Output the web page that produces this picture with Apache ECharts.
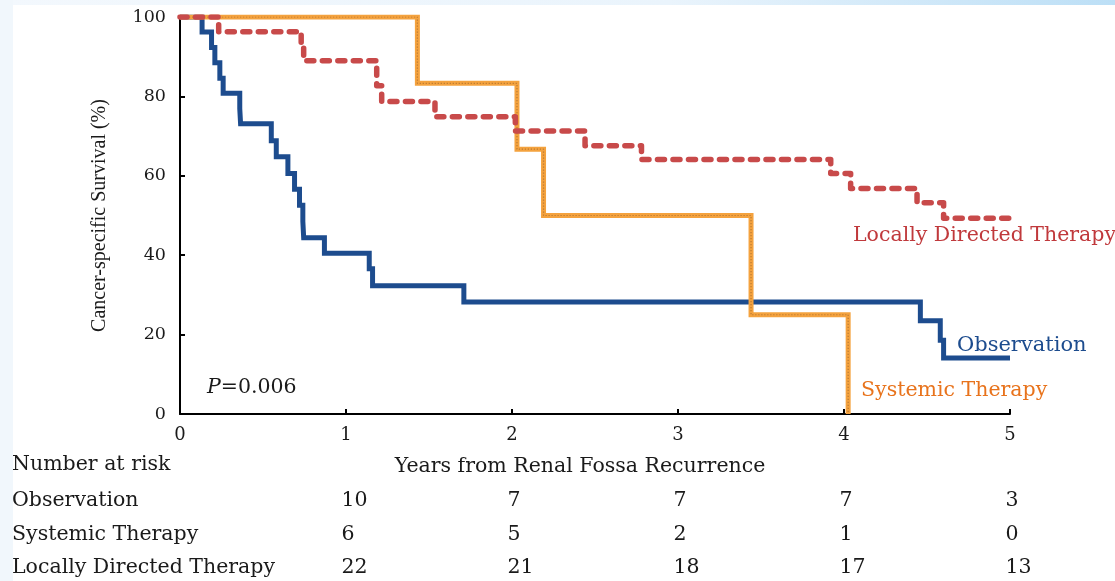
<!DOCTYPE html>
<html>
<head>
<meta charset="utf-8">
<script src="https://cdn.jsdelivr.net/npm/echarts@6/dist/echarts.min.js"></script>
<style>
html,body{margin:0;padding:0;background:#fff;}
#c{width:1115px;height:581px;}
</style>
</head>
<body>
<div id="c"></div>
<script>
// ---- Data ----
const xTicks = [0, 1, 2, 3, 4, 5];
const yTicks = [0, 20, 40, 60, 80, 100];

const obsTime = [0, 0.133, 0.19, 0.21, 0.24, 0.26, 0.36, 0.365, 0.55, 0.58, 0.65, 0.69, 0.72, 0.74, 0.745, 0.87, 1.14, 1.16, 1.71, 4.46, 4.58, 4.6, 5.0];
const obsSurv = [100, 96.2, 92.3, 88.5, 84.6, 80.8, 76.9, 73.1, 68.8, 64.8, 60.6, 56.6, 52.6, 48.5, 44.4, 40.5, 36.6, 32.3, 28.2, 23.5, 18.6, 14.1, 14.1];

const sysTime = [0, 1.43, 2.03, 2.19, 3.44, 4.025];
const sysSurv = [100, 83.3, 66.7, 50, 25, 0];

const locTime = [0, 0.233, 0.73, 0.745, 1.185, 1.215, 1.536, 2.02, 2.44, 2.78, 3.92, 4.04, 4.44, 4.6, 5.0];
const locSurv = [100, 96.3, 92.6, 89.0, 82.7, 78.7, 74.9, 71.3, 67.6, 64.1, 60.6, 56.8, 53.2, 49.3, 49.3];

const riskGroups = ['Observation', 'Systemic Therapy', 'Locally Directed Therapy'];
const riskYears = [1, 2, 3, 4, 5];
const riskObs = [10, 7, 7, 7, 3];
const riskSys = [6, 5, 2, 1, 0];
const riskLoc = [22, 21, 18, 17, 13];

// ---- Build ----
const zip = (t, s) => t.map((v, i) => [v, s[i]]);
const riskRows = [riskObs, riskSys, riskLoc];
const riskData = [];
riskRows.forEach((row, r) => row.forEach((v, i) => riskData.push([riskYears[i], riskGroups[r], v])));

const SERIF = '"DejaVu Serif", serif';
const TXT = '#1a1a1a';
const BLUE = '#1d4c8e';
const RED = '#c84a4a';
const ORANGE = '#f4a23e';
const FS = 20.5;

const chart = echarts.init(document.getElementById('c'));
chart.setOption({
  animation: false,
  backgroundColor: '#fff',
  grid: [
    { left: 180, top: 17, right: 105, bottom: 167, outerBoundsMode: 'none' },
    { left: 180, top: 484, right: 105, height: 101, outerBoundsMode: 'none' }
  ],
  xAxis: [{
    gridIndex: 0, type: 'value', min: 0, max: 5, interval: 1,
    name: 'Years from Renal Fossa Recurrence', nameLocation: 'middle', nameGap: 42,
    nameTextStyle: { fontFamily: SERIF, fontSize: FS, color: TXT, padding: [0, 30, 0, 0] },
    axisLine: { lineStyle: { color: '#000', width: 2 } },
    axisTick: { inside: true, length: 5, lineStyle: { color: '#000', width: 2 } },
    axisLabel: { fontFamily: SERIF, fontSize: 18, color: TXT, margin: 12, formatter: v => xTicks.includes(v) ? String(v) : '' },
    splitLine: { show: false }
  }, {
    gridIndex: 1, type: 'value', min: 0, max: 5, show: false
  }],
  yAxis: [{
    gridIndex: 0, type: 'value', min: 0, max: 100, interval: 20,
    name: 'Cancer-specific Survival (%)', nameLocation: 'middle', nameGap: 70, nameRotate: 90,
    nameTextStyle: { fontFamily: '"Liberation Serif", serif', fontSize: 20, color: TXT },
    axisLine: { show: true, lineStyle: { color: '#000', width: 2 } },
    axisTick: { show: true, inside: true, length: 5, lineStyle: { color: '#000', width: 2 } },
    axisLabel: { fontFamily: SERIF, fontSize: 17.5, color: TXT, margin: 14, formatter: v => yTicks.includes(v) ? String(v) : '' },
    splitLine: { show: false }
  }, {
    gridIndex: 1, type: 'category', data: riskGroups, inverse: true,
    axisLine: { show: false }, axisTick: { show: false }, splitLine: { show: false },
    axisLabel: { align: 'left', margin: 168, fontFamily: SERIF, fontSize: FS, color: TXT }
  }],
  series: [
    {
      name: 'Observation', type: 'line', xAxisIndex: 0, yAxisIndex: 0, step: 'end',
      data: zip(obsTime, obsSurv), showSymbol: false, z: 2,
      lineStyle: { color: BLUE, width: 5, join: 'miter' }
    },
    {
      name: 'Systemic Therapy', type: 'line', xAxisIndex: 0, yAxisIndex: 0, step: 'end',
      data: zip(sysTime, sysSurv), showSymbol: false, z: 3,
      lineStyle: { color: ORANGE, width: 5, join: 'miter' }
    },
    {
      name: 'Systemic Therapy dots', type: 'line', xAxisIndex: 0, yAxisIndex: 0, step: 'end',
      data: zip(sysTime, sysSurv), showSymbol: false, z: 3, silent: true,
      lineStyle: { color: '#8a5a2a', width: 1.2, type: [1.2, 1.8], opacity: 0.55 }
    },
    {
      name: 'Locally Directed Therapy', type: 'line', xAxisIndex: 0, yAxisIndex: 0, step: 'end',
      data: zip(locTime, locSurv), showSymbol: false, z: 4,
      lineStyle: { color: RED, width: 5.5, type: [7, 8.5], cap: 'round', join: 'round' }
    },
    {
      name: 'Number at risk', type: 'scatter', xAxisIndex: 1, yAxisIndex: 1,
      data: riskData, symbolSize: 1, itemStyle: { color: '#ffffff', opacity: 0 },
      label: {
        show: true, position: 'right', distance: 0, align: 'left', verticalAlign: 'middle', offset: [-5, 0],
        fontFamily: SERIF, fontSize: FS, color: TXT, opacity: 1, formatter: p => String(p.value[2])
      }
    }
  ],
  graphic: [
    { type: 'rect', left: 0, top: 0, z: 100, shape: { width: 1115, height: 5 },
      style: { fill: new echarts.graphic.LinearGradient(0, 0, 1, 0, [{ offset: 0, color: '#f3f8fd' }, { offset: 0.6, color: '#eaf4fc' }, { offset: 1, color: '#bcdff6' }]) } },
    { type: 'rect', left: 0, top: 0, z: 100, shape: { width: 13, height: 581 }, style: { fill: '#f1f7fc' } },
    { type: 'text', left: 12, top: 454, z: 10,
      style: { text: 'Number at risk', fontFamily: SERIF, fontSize: FS, fill: TXT } },
    { type: 'text', left: 207, top: 377, z: 10,
      style: { text: '{i|P}=0.006', fontFamily: SERIF, fontSize: FS, fill: TXT,
        rich: { i: { fontStyle: 'italic', fontFamily: SERIF, fontSize: FS, fill: TXT } } } },
    { type: 'text', left: 853, top: 225, z: 10,
      style: { text: 'Locally Directed Therapy', fontFamily: SERIF, fontSize: FS, fill: '#c0393c' } },
    { type: 'text', left: 957, top: 335, z: 10,
      style: { text: 'Observation', fontFamily: SERIF, fontSize: 21, fill: BLUE } },
    { type: 'text', left: 861, top: 380, z: 10,
      style: { text: 'Systemic Therapy', fontFamily: SERIF, fontSize: FS, fill: '#e8731c' } }
  ]
});
</script>
</body>
</html>
